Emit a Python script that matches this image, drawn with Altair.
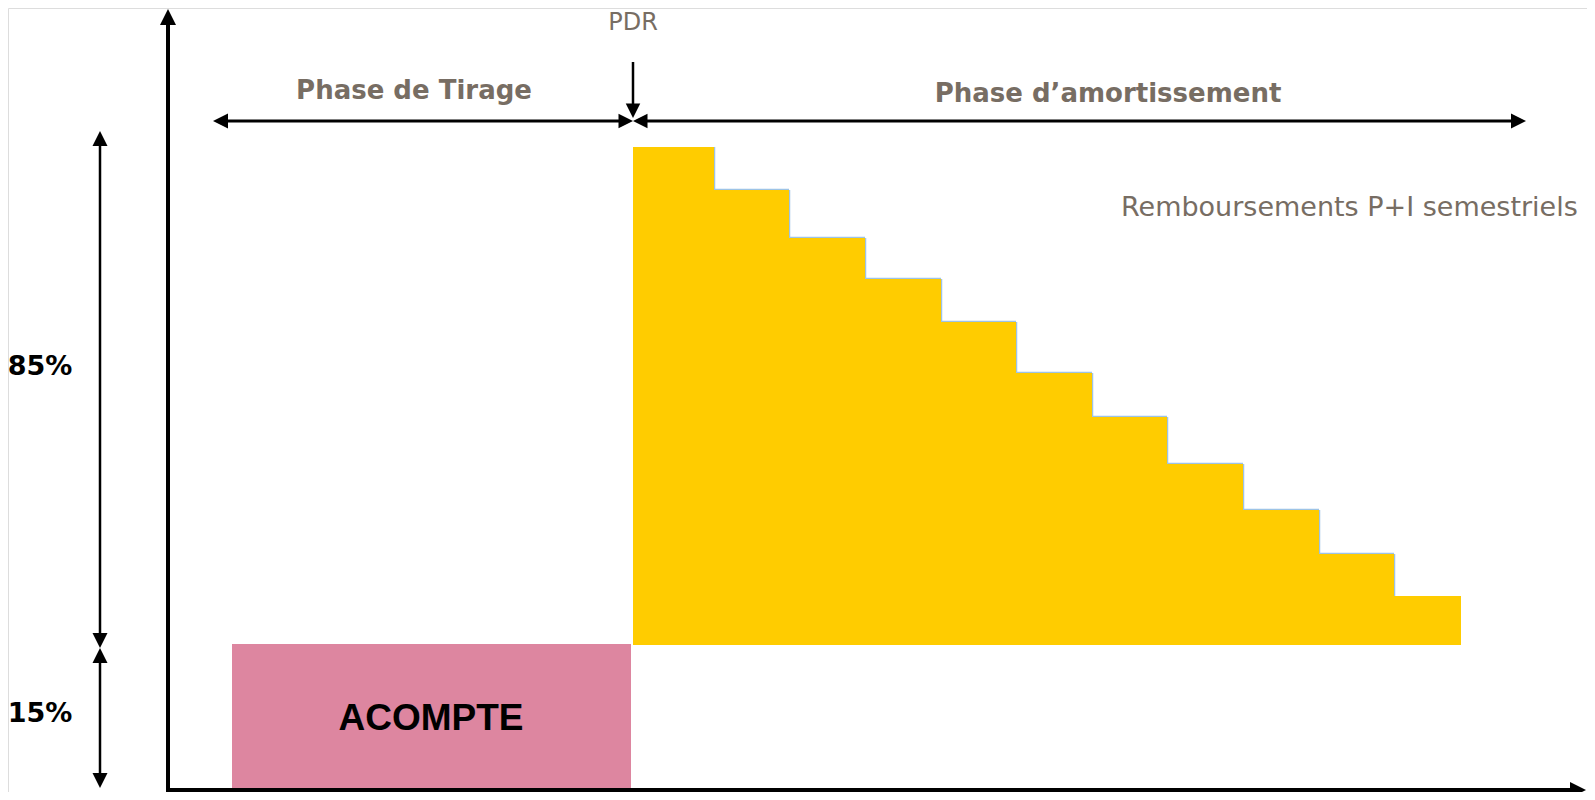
import altair as alt
import pandas as pd

# ---- Diagram data (x in page pixels, y = height above the time axis) ----
step_edges = [633, 714, 789, 865, 941, 1016, 1092, 1167, 1243, 1319, 1394, 1461]
step_tops = [643, 600, 552, 511, 468, 417, 373, 326, 280, 236, 194]
step_base = 145

acompte_x = [232, 631]
acompte_y = [0, 146]
acompte_label = "ACOMPTE"

pct_labels = ["85%", "15%"]
pct_y = [415, 68]

phase_labels = ["Phase de Tirage", "Phase d\u2019amortissement"]
phase_x = [414, 1108]
phase_y = [691, 688]

pdr_label = "PDR"
remb_label = "Remboursements P+I semestriels"

TAUPE = "#776D63"
YELLOW = "#FFCC00"
PINK = "#DD86A0"
EDGE = "#9DC3E6"

X = alt.Scale(domain=[8, 1587])
Y = alt.Scale(domain=[-2, 782])


def xe(f):
    return alt.X(f, type="quantitative", scale=X, axis=None)


def ye(f):
    return alt.Y(f, type="quantitative", scale=Y, axis=None)


# steps: each step drawn from the first edge to its own right edge (nested, no seams)
steps = pd.DataFrame({
    "x0": [step_edges[0]] * len(step_tops),
    "x1": step_edges[1:],
    "top": step_tops,
    "base": [step_base] * len(step_tops),
    "order": list(range(len(step_tops))),
})

# light-blue outline along step edges
edge_rows = []
for i in range(len(step_tops) - 1):
    edge_rows.append({"x": step_edges[i + 1], "x2": step_edges[i + 1],
                      "y": step_tops[i + 1], "y2": step_tops[i]})
for i in range(1, len(step_tops) - 1):
    edge_rows.append({"x": step_edges[i], "x2": step_edges[i + 1],
                      "y": step_tops[i], "y2": step_tops[i]})
edges = pd.DataFrame(edge_rows)

acompte = pd.DataFrame({"x0": [acompte_x[0]], "x1": [acompte_x[1]],
                        "y0": [acompte_y[0]], "y1": [acompte_y[1]],
                        "label": [acompte_label]})

# lines: (x, y, x2, y2, width)
lines = pd.DataFrame([
    # axes
    {"x": 168, "y": -2, "x2": 168, "y2": 770, "w": 4},
    {"x": 166, "y": 0, "x2": 1576, "y2": 0, "w": 4},
    # left dimension arrows
    {"x": 100, "y": 650, "x2": 100, "y2": 150, "w": 2.5},
    {"x": 100, "y": 134, "x2": 100, "y2": 10, "w": 2.5},
    # top phase arrow
    {"x": 222, "y": 669, "x2": 622, "y2": 669, "w": 3},
    {"x": 644, "y": 669, "x2": 1516, "y2": 669, "w": 3},
    # PDR arrow
    {"x": 633, "y": 728, "x2": 633, "y2": 680, "w": 2.5},
])

UP = "M0,0L-1,2L1,2Z"
DOWN = "M0,0L-1,-2L1,-2Z"
LEFT = "M0,0L2,-1L2,1Z"
RIGHT = "M0,0L-2,-1L-2,1Z"

heads = pd.DataFrame([
    {"x": 168, "y": 781, "shape": UP, "size": 256},
    {"x": 1586, "y": 0, "shape": RIGHT, "size": 256},
    {"x": 100, "y": 659, "shape": UP, "size": 225},
    {"x": 100, "y": 142, "shape": DOWN, "size": 225},
    {"x": 100, "y": 142, "shape": UP, "size": 225},
    {"x": 100, "y": 2, "shape": DOWN, "size": 225},
    {"x": 213, "y": 669, "shape": LEFT, "size": 225},
    {"x": 633, "y": 669, "shape": RIGHT, "size": 210},
    {"x": 633, "y": 669, "shape": LEFT, "size": 210},
    {"x": 1526, "y": 669, "shape": RIGHT, "size": 225},
    {"x": 633, "y": 672, "shape": DOWN, "size": 210},
])

edge_layer = alt.Chart(edges).mark_rule(color=EDGE, strokeWidth=2.5).encode(
    x=xe("x"), x2="x2", y=ye("y"), y2="y2")

step_layer = alt.Chart(steps).mark_rect(color=YELLOW, strokeWidth=0).encode(
    x=xe("x0"), x2="x1", y=ye("base"), y2="top",
    order=alt.Order("order:Q"))

acompte_layer = alt.Chart(acompte).mark_rect(color=PINK, strokeWidth=0).encode(
    x=xe("x0"), x2="x1", y=ye("y0"), y2="y1")

acompte_text = alt.Chart(pd.DataFrame({"x": [431], "y": [60], "t": [acompte_label]})).mark_text(
    font="Liberation Sans", fontWeight="bold", fontSize=37, color="black",
    align="center", baseline="alphabetic").encode(x=xe("x"), y=ye("y"), text="t:N")

line_layer = alt.Chart(lines).mark_rule(color="black").encode(
    x=xe("x"), x2="x2", y=ye("y"), y2="y2",
    strokeWidth=alt.StrokeWidth("w:Q", scale=None, legend=None))

head_layer = alt.Chart(heads).mark_point(filled=True, color="black", opacity=1, strokeWidth=0).encode(
    x=xe("x"), y=ye("y"),
    shape=alt.Shape("shape:N", scale=None, legend=None),
    size=alt.Size("size:Q", scale=None, legend=None))

pct_layer = alt.Chart(pd.DataFrame({"x": [40, 40], "y": pct_y, "t": pct_labels})).mark_text(
    font="DejaVu Sans", fontWeight="bold", fontSize=27, color="black",
    align="center", baseline="alphabetic").encode(x=xe("x"), y=ye("y"), text="t:N")

phase_layer = alt.Chart(pd.DataFrame({"x": phase_x, "y": phase_y, "t": phase_labels})).mark_text(
    font="DejaVu Sans", fontWeight="bold", fontSize=26, color=TAUPE,
    align="center", baseline="alphabetic").encode(x=xe("x"), y=ye("y"), text="t:N")

pdr_layer = alt.Chart(pd.DataFrame({"x": [633], "y": [760], "t": [pdr_label]})).mark_text(
    font="DejaVu Sans", fontSize=24, color=TAUPE,
    align="center", baseline="alphabetic").encode(x=xe("x"), y=ye("y"), text="t:N")

remb_layer = alt.Chart(pd.DataFrame({"x": [1121], "y": [574], "t": [remb_label]})).mark_text(
    font="DejaVu Sans", fontSize=27, color=TAUPE,
    align="left", baseline="alphabetic").encode(x=xe("x"), y=ye("y"), text="t:N")

chart = alt.layer(
    edge_layer, step_layer, acompte_layer, acompte_text,
    line_layer, head_layer, pct_layer, phase_layer, pdr_layer, remb_layer,
).properties(
    width=1579, height=784, padding=0,
    autosize=alt.AutoSizeParams(type="none"),
).configure_view(stroke="transparent", strokeWidth=0).configure(background="white")

chart.save("out.html", embed_options={"renderer": "svg", "actions": False})
